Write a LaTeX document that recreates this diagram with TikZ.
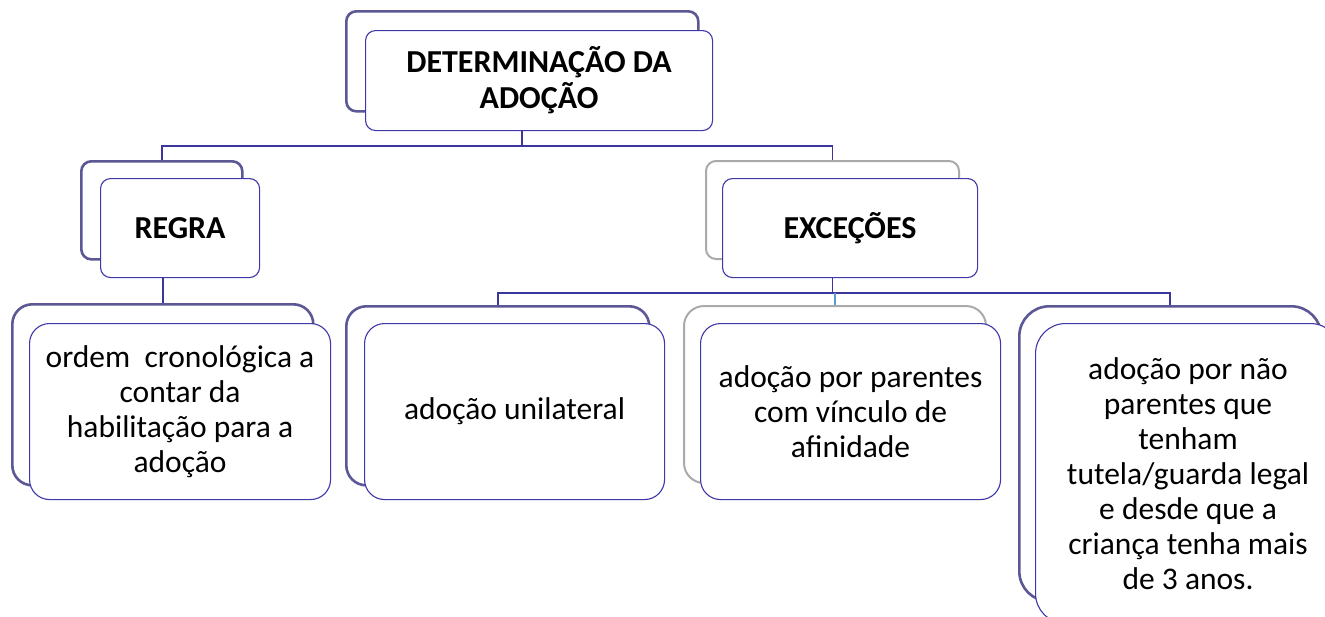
\documentclass[tikz,border=0pt]{standalone}
\usepackage{fontspec}
\setmainfont{Carlito}
\definecolor{frontc}{RGB}{62,56,168}
\definecolor{shadc}{RGB}{92,88,150}
\definecolor{grayc}{RGB}{170,170,170}
\definecolor{connc}{RGB}{58,54,158}
\definecolor{lbc}{RGB}{91,155,213}
\newcommand{\titlef}{\fontsize{32}{36}\selectfont\bfseries}
\newcommand{\bodyf}{\fontsize{31.5}{35}\selectfont}
\begin{document}
\begin{tikzpicture}[x=1pt,y=-1pt,
  front/.style={draw=frontc, line width=1.1pt, fill=white, anchor=north west,
    inner sep=0pt, align=center, rounded corners=#1},
  front/.default=10pt,
  shad/.style={draw=shadc, line width=2.6pt, fill=white, anchor=north west,
    inner sep=0pt, rounded corners=#1},
  shad/.default=10pt,
  gshad/.style={shad=#1, draw=grayc, line width=2pt},
  gshad/.default=10pt,
  conn/.style={draw=connc, line width=1.8pt},
  lb/.style={draw=lbc, line width=1.5pt}]
\clip (0,0) rectangle (1325,616);
\fill[white] (0,0) rectangle (1325,616);
\coordinate (bus1) at (0,146);
\coordinate (bus2) at (0,293);
% shadows
\node[shad, minimum width=352pt, minimum height=100pt] (topS) at (345,10) {};
\node[shad, minimum width=161pt, minimum height=98pt] (regraS) at (80,160) {};
\node[gshad, minimum width=253pt, minimum height=98pt] (exS) at (705,160) {};
\node[shad=20pt, minimum width=301pt, minimum height=181pt] (c1S) at (11,303) {};
\node[shad=20pt, minimum width=303pt, minimum height=179pt] (c2S) at (345,305) {};
\node[gshad=20pt, minimum width=302pt, minimum height=177pt] (c3S) at (683,305) {};
\node[shad=30pt, minimum width=302pt, minimum height=295pt] (c4S) at (1018,305) {};
% fronts
\node[front, minimum width=347pt, minimum height=100pt, font=\titlef] (top) at (365,30) {DETERMINAÇÃO DA\\ADOÇÃO};
\node[front, minimum width=159pt, minimum height=99pt, font=\titlef] (regra) at (100,178) {REGRA};
\node[front, minimum width=255pt, minimum height=99pt, font=\titlef] (ex) at (722,178) {EXCEÇÕES};
\node[front=20pt, minimum width=301pt, minimum height=176pt, font=\bodyf] (c1) at (29,323) {ordem\ \ cronológica a\\contar da\\habilitação para a\\adoção};
\node[front=20pt, minimum width=300pt, minimum height=176pt, font=\bodyf] (c2) at (364,323) {adoção unilateral};
\node[front=20pt, minimum width=300pt, minimum height=176pt, font=\bodyf] (c3) at (700,323) {adoção por parentes\\com vínculo de\\afinidade};
\node[front=30pt, minimum width=305pt, minimum height=300pt, font=\bodyf] (c4) at (1035,323) {adoção por não\\parentes que\\tenham\\tutela/guarda legal\\e desde que a\\criança tenha mais\\de 3 anos.};
% connectors
\draw[conn] (topS.south |- top.south) -- (topS.south |- bus1);
\draw[conn] (regraS.north) |- (exS.north |- bus1) -- (exS.north);
\draw[conn] (c1S.north |- regra.south) -- (c1S.north);
\draw[conn] (exS.south |- ex.south) -- (exS.south |- bus2);
\draw[conn] (c2S.north) |- (c4S.north |- bus2) -- (c4S.north);
\draw[lb] (c3S.north |- bus2) -- (c3S.north);
\end{tikzpicture}
\end{document}
